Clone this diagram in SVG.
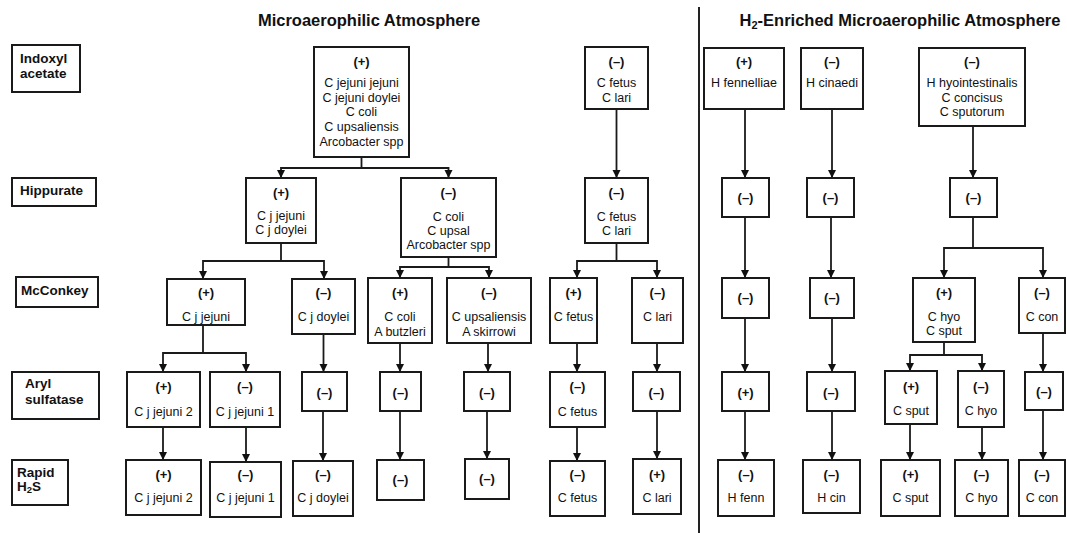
<svg xmlns="http://www.w3.org/2000/svg" width="1067" height="533" viewBox="0 0 1067 533">
<style>
.box{fill:#fff;stroke:#1a1a1a;stroke-width:2}
.lbl{font-family:"Liberation Sans",Arial,sans-serif;font-weight:bold;font-size:13.5px;fill:#111}
.ttl{font-family:"Liberation Sans",Arial,sans-serif;font-weight:bold;font-size:16.5px;fill:#111;text-anchor:middle}
.sg{font-family:"Liberation Sans",Arial,sans-serif;font-weight:bold;font-size:13px;fill:#111;text-anchor:middle}
.sp{font-family:"Liberation Sans",Arial,sans-serif;font-size:12.5px;fill:#111;text-anchor:middle}
.conn path{fill:none;stroke:#1a1a1a;stroke-width:1.8;marker-end:url(#ah)}
</style>
<defs>
<marker id="ah" markerUnits="userSpaceOnUse" markerWidth="9" markerHeight="9" refX="8" refY="4" orient="auto" viewBox="0 0 9 9">
<path d="M0,0 L8,4 L0,8 z" fill="#111"/>
</marker>
</defs>
<rect width="1067" height="533" fill="#fff"/>
<text class="ttl" x="369" y="26">Microaerophilic Atmosphere</text>
<text class="ttl" x="900" y="26">H<tspan font-size="11" dy="3">2</tspan><tspan dy="-3">-Enriched Microaerophilic Atmosphere</tspan></text>
<line x1="699" y1="7" x2="699" y2="533" stroke="#222" stroke-width="2"/>

<g id="lbl-indoxyl"><rect class="box" x="12" y="45" width="68" height="47"/><text class="lbl" x="20" y="63">Indoxyl</text><text class="lbl" x="20" y="78">acetate</text></g>
<g id="lbl-hippurate"><rect class="box" x="12" y="178" width="84" height="28"/><text class="lbl" x="20" y="195">Hippurate</text></g>
<g id="lbl-mcconkey"><rect class="box" x="16" y="277" width="82" height="30"/><text class="lbl" x="21" y="295">McConkey</text></g>
<g id="lbl-aryl"><rect class="box" x="12" y="372" width="87" height="47"/><text class="lbl" x="25" y="388">Aryl</text><text class="lbl" x="25" y="404">sulfatase</text></g>
<g id="lbl-h2s"><rect class="box" x="12" y="460" width="56" height="45"/><text class="lbl" x="17" y="477">Rapid</text><text class="lbl" x="17" y="491">H<tspan font-size="9.5" dy="2">2</tspan><tspan dy="-2">S</tspan></text></g>

<g class="conn" id="connectors">
<path d="M361.5,157 V168 H281 V178"/>
<path d="M361.5,168 H448.5 V178"/>
<path d="M616.5,109 V178"/>
<path d="M745,109 V178"/>
<path d="M832,109 V178"/>
<path d="M973,126 V178"/>
<path d="M281,243 V261 H203 V279"/>
<path d="M281,261 H324 V279"/>
<path d="M448.5,257 V267 H400 V278"/>
<path d="M448.5,267 H489 V278"/>
<path d="M616.5,243 V261 H577 V278"/>
<path d="M616.5,261 H657 V278"/>
<path d="M745,217 V278"/>
<path d="M831,217 V278"/>
<path d="M973,217 V248 H944 V278"/>
<path d="M973,248 H1043 V278"/>
<path d="M203,325 V353 H163 V372"/>
<path d="M203,353 H246 V372"/>
<path d="M323.5,334 V372"/>
<path d="M400,343 V372"/>
<path d="M488,343 V372"/>
<path d="M577,343 V372"/>
<path d="M657,343 V372"/>
<path d="M745,318 V372"/>
<path d="M832,318 V372"/>
<path d="M944,342 V355 H910 V371"/>
<path d="M944,355 H982 V371"/>
<path d="M1043,333 V372"/>
<path d="M163,427 V460"/>
<path d="M246,427 V462"/>
<path d="M323,411 V461"/>
<path d="M400,411 V460"/>
<path d="M487,411 V459"/>
<path d="M577,427 V461"/>
<path d="M657,411 V459"/>
<path d="M745,411 V460"/>
<path d="M832,411 V460"/>
<path d="M910,424 V460"/>
<path d="M982,427 V460"/>
<path d="M1043,410 V460"/>
</g>

<g id="n-a"><rect class="box" x="314" y="47" width="95" height="110"/><text class="sg" x="361.5" y="66">(+)</text><text class="sp" x="361.5" y="87">C jejuni jejuni</text><text class="sp" x="361.5" y="102">C jejuni doylei</text><text class="sp" x="361.5" y="116">C coli</text><text class="sp" x="361.5" y="131">C upsaliensis</text><text class="sp" x="361.5" y="146">Arcobacter spp</text></g>
<g id="n-t2"><rect class="box" x="585" y="47" width="63" height="62"/><text class="sg" x="616.5" y="66">(–)</text><text class="sp" x="616.5" y="87">C fetus</text><text class="sp" x="616.5" y="102">C lari</text></g>
<g id="n-h1"><rect class="box" x="704" y="48" width="80" height="61"/><text class="sg" x="744" y="66">(+)</text><text class="sp" x="744" y="87">H fennelliae</text></g>
<g id="n-h2"><rect class="box" x="801" y="48" width="62" height="61"/><text class="sg" x="832" y="66">(–)</text><text class="sp" x="832" y="87">H cinaedi</text></g>
<g id="n-h3"><rect class="box" x="919" y="48" width="106" height="78"/><text class="sg" x="972" y="66">(–)</text><text class="sp" x="972" y="87">H hyointestinalis</text><text class="sp" x="972" y="102">C concisus</text><text class="sp" x="972" y="116">C sputorum</text></g>

<g id="n-b1"><rect class="box" x="246" y="178" width="70" height="65"/><text class="sg" x="281" y="197">(+)</text><text class="sp" x="281" y="220">C j jejuni</text><text class="sp" x="281" y="234">C j doylei</text></g>
<g id="n-b2"><rect class="box" x="401" y="178" width="95" height="79"/><text class="sg" x="448.5" y="197">(–)</text><text class="sp" x="448.5" y="221">C coli</text><text class="sp" x="448.5" y="235">C upsal</text><text class="sp" x="448.5" y="249">Arcobacter spp</text></g>
<g id="n-b3"><rect class="box" x="585" y="178" width="63" height="65"/><text class="sg" x="616.5" y="197">(–)</text><text class="sp" x="616.5" y="221">C fetus</text><text class="sp" x="616.5" y="235">C lari</text></g>
<g id="n-r1"><rect class="box" x="722" y="178" width="47" height="39"/><text class="sg" x="745.5" y="202">(–)</text></g>
<g id="n-r2"><rect class="box" x="807" y="178" width="47" height="39"/><text class="sg" x="830.5" y="202">(–)</text></g>
<g id="n-r3"><rect class="box" x="950" y="178" width="47" height="39"/><text class="sg" x="973.5" y="202">(–)</text></g>

<g id="n-c1"><rect class="box" x="167" y="279" width="78" height="46"/><text class="sg" x="206" y="297">(+)</text><text class="sp" x="206" y="321">C j jejuni</text></g>
<g id="n-c2"><rect class="box" x="292" y="279" width="63" height="55"/><text class="sg" x="323.5" y="297">(–)</text><text class="sp" x="323.5" y="321">C j doylei</text></g>
<g id="n-c3"><rect class="box" x="368" y="278" width="64" height="65"/><text class="sg" x="400" y="297">(+)</text><text class="sp" x="400" y="321">C coli</text><text class="sp" x="400" y="336">A butzleri</text></g>
<g id="n-c4"><rect class="box" x="447" y="278" width="84" height="65"/><text class="sg" x="489" y="297">(–)</text><text class="sp" x="489" y="321">C upsaliensis</text><text class="sp" x="489" y="336">A skirrowi</text></g>
<g id="n-c5"><rect class="box" x="550" y="278" width="47" height="65"/><text class="sg" x="573.5" y="297">(+)</text><text class="sp" x="573.5" y="321">C fetus</text></g>
<g id="n-c6"><rect class="box" x="632" y="278" width="51" height="65"/><text class="sg" x="657.5" y="297">(–)</text><text class="sp" x="657.5" y="321">C lari</text></g>
<g id="n-r4"><rect class="box" x="722" y="278" width="47" height="40"/><text class="sg" x="745.5" y="302">(–)</text></g>
<g id="n-r5"><rect class="box" x="810" y="278" width="44" height="40"/><text class="sg" x="832" y="302">(–)</text></g>
<g id="n-r6"><rect class="box" x="913" y="278" width="62" height="64"/><text class="sg" x="944" y="297">(+)</text><text class="sp" x="944" y="321">C hyo</text><text class="sp" x="944" y="335">C sput</text></g>
<g id="n-r7"><rect class="box" x="1019" y="278" width="46" height="55"/><text class="sg" x="1042" y="297">(–)</text><text class="sp" x="1042" y="321">C con</text></g>

<g id="n-d1"><rect class="box" x="127" y="372" width="73" height="55"/><text class="sg" x="163.5" y="391">(+)</text><text class="sp" x="163.5" y="416">C j jejuni 2</text></g>
<g id="n-d2"><rect class="box" x="210" y="372" width="70" height="55"/><text class="sg" x="245" y="391">(–)</text><text class="sp" x="245" y="416">C j jejuni 1</text></g>
<g id="n-d3"><rect class="box" x="302" y="372" width="45" height="39"/><text class="sg" x="324.5" y="397">(–)</text></g>
<g id="n-d4"><rect class="box" x="380" y="372" width="41" height="39"/><text class="sg" x="400.5" y="397">(–)</text></g>
<g id="n-d5"><rect class="box" x="464" y="372" width="46" height="39"/><text class="sg" x="487" y="397">(–)</text></g>
<g id="n-d6"><rect class="box" x="550" y="372" width="55" height="55"/><text class="sg" x="577.5" y="391">(–)</text><text class="sp" x="577.5" y="416">C fetus</text></g>
<g id="n-d7"><rect class="box" x="633" y="372" width="47" height="39"/><text class="sg" x="656.5" y="397">(–)</text></g>
<g id="n-e1"><rect class="box" x="722" y="372" width="47" height="39"/><text class="sg" x="745.5" y="397">(+)</text></g>
<g id="n-e2"><rect class="box" x="807" y="372" width="48" height="39"/><text class="sg" x="831" y="397">(–)</text></g>
<g id="n-e3"><rect class="box" x="885" y="371" width="52" height="53"/><text class="sg" x="911" y="391">(+)</text><text class="sp" x="911" y="415">C sput</text></g>
<g id="n-e4"><rect class="box" x="958" y="371" width="46" height="56"/><text class="sg" x="981" y="391">(–)</text><text class="sp" x="981" y="415">C hyo</text></g>
<g id="n-e5"><rect class="box" x="1025" y="372" width="38" height="38"/><text class="sg" x="1044" y="396">(–)</text></g>

<g id="n-f1"><rect class="box" x="126" y="460" width="75" height="55"/><text class="sg" x="163.5" y="479">(+)</text><text class="sp" x="163.5" y="502">C j jejuni 2</text></g>
<g id="n-f2"><rect class="box" x="210" y="462" width="71" height="55"/><text class="sg" x="245.5" y="479">(–)</text><text class="sp" x="245.5" y="502">C j jejuni 1</text></g>
<g id="n-f3"><rect class="box" x="293" y="461" width="60" height="55"/><text class="sg" x="323" y="479">(–)</text><text class="sp" x="323" y="502">C j doylei</text></g>
<g id="n-f4"><rect class="box" x="377" y="460" width="47" height="40"/><text class="sg" x="400.5" y="484">(–)</text></g>
<g id="n-f5"><rect class="box" x="465" y="459" width="44" height="40"/><text class="sg" x="487" y="483">(–)</text></g>
<g id="n-f6"><rect class="box" x="550" y="461" width="55" height="55"/><text class="sg" x="577.5" y="479">(–)</text><text class="sp" x="577.5" y="502">C fetus</text></g>
<g id="n-f7"><rect class="box" x="633" y="459" width="48" height="55"/><text class="sg" x="657" y="479">(+)</text><text class="sp" x="657" y="502">C lari</text></g>
<g id="n-g1"><rect class="box" x="718" y="460" width="56" height="56"/><text class="sg" x="746" y="479">(–)</text><text class="sp" x="746" y="502">H fenn</text></g>
<g id="n-g2"><rect class="box" x="803" y="460" width="57" height="53"/><text class="sg" x="831.5" y="479">(–)</text><text class="sp" x="831.5" y="502">H cin</text></g>
<g id="n-g3"><rect class="box" x="881" y="460" width="59" height="56"/><text class="sg" x="910.5" y="479">(+)</text><text class="sp" x="910.5" y="502">C sput</text></g>
<g id="n-g4"><rect class="box" x="955" y="460" width="53" height="56"/><text class="sg" x="981.5" y="479">(–)</text><text class="sp" x="981.5" y="502">C hyo</text></g>
<g id="n-g5"><rect class="box" x="1019" y="460" width="46" height="56"/><text class="sg" x="1042" y="479">(–)</text><text class="sp" x="1042" y="502">C con</text></g>
</svg>
